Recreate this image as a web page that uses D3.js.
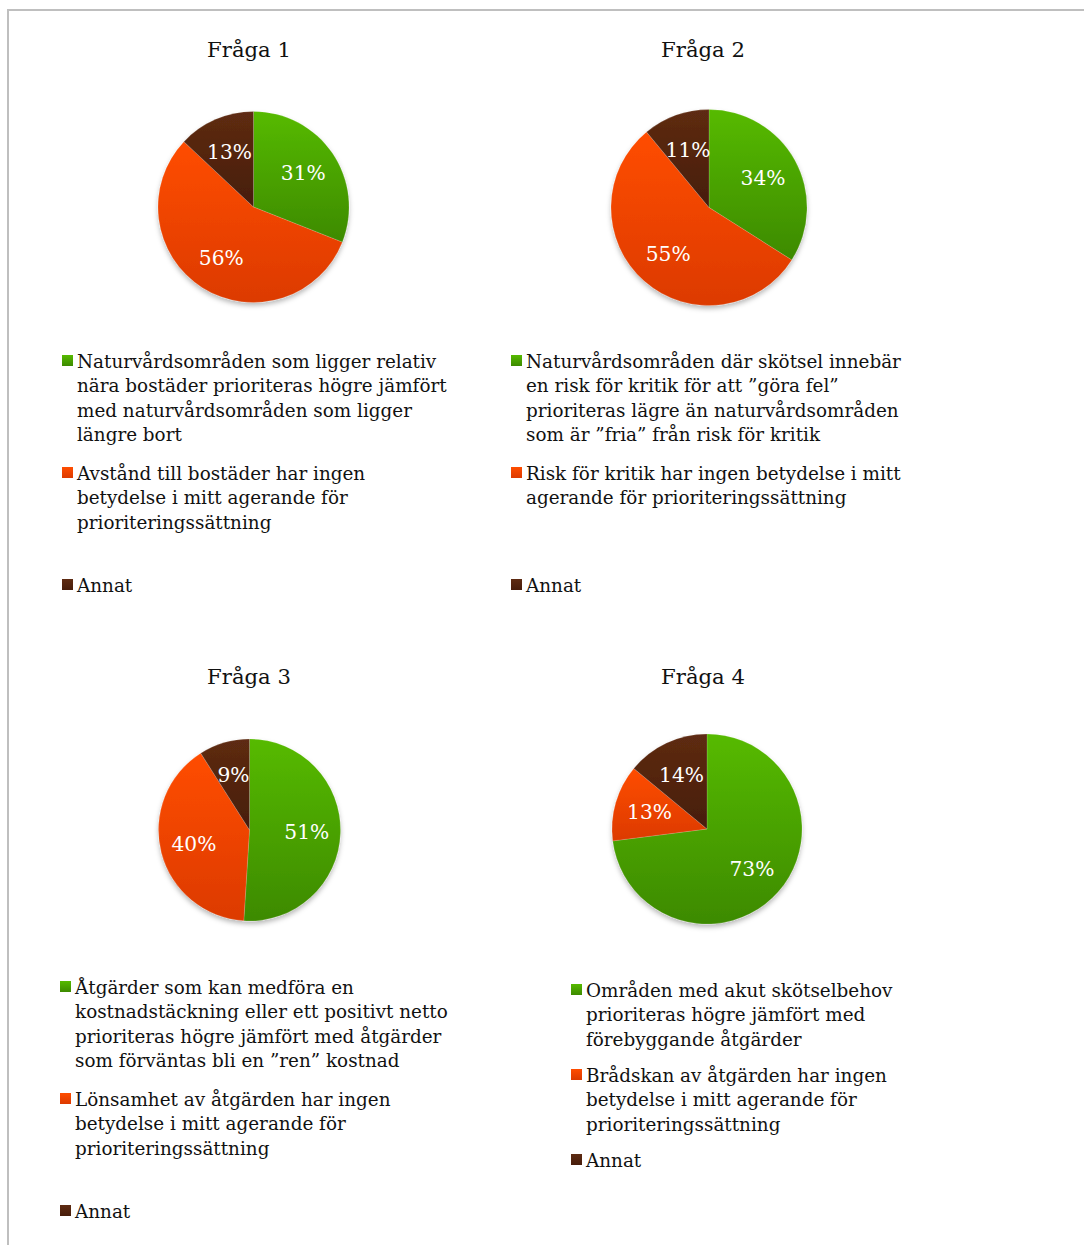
<!DOCTYPE html>
<html><head><meta charset="utf-8">
<script src="https://cdn.jsdelivr.net/npm/d3@7/dist/d3.min.js"></script>
<style>body{margin:0;background:#fff}svg{display:block}</style>
</head><body>
<svg id="c" width="1084" height="1245"></svg>
<script>
const titles = ["Fråga 1","Fråga 2","Fråga 3","Fråga 4"];
const categories = ["A","B","Annat"];
const q1 = [31,56,13];
const q2 = [34,55,11];
const q3 = [51,40,9];
const q4 = [73,13,14];
const legend1 = [["Naturvårdsområden som ligger relativ","nära bostäder prioriteras högre jämfört","med naturvårdsområden som ligger","längre bort"],["Avstånd till bostäder har ingen","betydelse i mitt agerande för","prioriteringssättning"],["Annat"]];
const legend2 = [["Naturvårdsområden där skötsel innebär","en risk för kritik för att ”göra fel”","prioriteras lägre än naturvårdsområden","som är ”fria” från risk för kritik"],["Risk för kritik har ingen betydelse i mitt","agerande för prioriteringssättning"],["Annat"]];
const legend3 = [["Åtgärder som kan medföra en","kostnadstäckning eller ett positivt netto","prioriteras högre jämfört med åtgärder","som förväntas bli en ”ren” kostnad"],["Lönsamhet av åtgärden har ingen","betydelse i mitt agerande för","prioriteringssättning"],["Annat"]];
const legend4 = [["Områden med akut skötselbehov","prioriteras högre jämfört med","förebyggande åtgärder"],["Brådskan av åtgärden har ingen","betydelse i mitt agerande för","prioriteringssättning"],["Annat"]];

const colorTop = ["#56ba00","#ff4d00","#5e2b12"];
const colorBot = ["#3d8a00","#dc3a00","#471d0b"];

const panels = [
  {title:titles[0], values:q1, legend:legend1, cx:253.5, cy:207, r:95.5, tx:249, ty:57, lx:62, ly:[368,480,592]},
  {title:titles[1], values:q2, legend:legend2, cx:709, cy:207.5, r:98, tx:703, ty:57, lx:511, ly:[368,480,592]},
  {title:titles[2], values:q3, legend:legend3, cx:249.5, cy:830, r:91, tx:249, ty:684, lx:60, ly:[994,1106,1218]},
  {title:titles[3], values:q4, legend:legend4, cx:707, cy:829, r:95, tx:703, ty:684, lx:571, ly:[997,1082,1167]}
];
const FONT = "'DejaVu Serif', Georgia, serif";
const svg = d3.select("#c");
const defs = svg.append("defs");
categories.forEach((c,i)=>{
  const g = defs.append("linearGradient").attr("id","g"+i).attr("x1",0).attr("y1",0).attr("x2",0).attr("y2",1);
  g.append("stop").attr("offset","0%").attr("stop-color",colorTop[i]);
  g.append("stop").attr("offset","100%").attr("stop-color",colorBot[i]);
});
const f = defs.append("filter").attr("id","sh").attr("x","-20%").attr("y","-20%").attr("width","140%").attr("height","150%");
f.append("feDropShadow").attr("dx",0).attr("dy",3).attr("stdDeviation",2.5).attr("flood-color","#000").attr("flood-opacity",0.28);

// border
svg.append("path").attr("d","M8,1245 V10 H1084").attr("fill","none").attr("stroke","#bfbfbf").attr("stroke-width",2);

// measure font scaling
const meas = svg.append("text").attr("font-family",FONT).attr("font-size",20).text("nära bostäder prioriteras högre jämfört");
const legSize = 20*370/meas.node().getComputedTextLength();
meas.attr("font-size",24).text("Fråga 1");
const titleSize = 24*84/meas.node().getComputedTextLength();
meas.attr("font-size",22).text("31%");
const pctSize = 22*45/meas.node().getComputedTextLength();
meas.remove();

const pie = d3.pie().sort(null).value(d=>d);
panels.forEach(p=>{
  const g = svg.append("g");
  g.append("text").attr("x",p.tx).attr("y",p.ty).attr("text-anchor","middle")
    .attr("font-family",FONT).attr("font-size",titleSize).attr("fill","#111").text(p.title);
  const arc = d3.arc().innerRadius(0).outerRadius(p.r);
  const lab = d3.arc().innerRadius(p.r*0.63).outerRadius(p.r*0.63);
  const pg = g.append("g").attr("transform",`translate(${p.cx},${p.cy})`);
  const arcs = pie(p.values);
  pg.append("g").attr("filter","url(#sh)").selectAll("path").data(arcs).join("path")
    .attr("d",arc).attr("fill",(d,i)=>`url(#g${i})`).attr("stroke","rgba(255,255,255,0.25)").attr("stroke-width",0.6);
  pg.selectAll("text").data(arcs).join("text")
    .attr("transform",d=>`translate(${lab.centroid(d)})`).attr("text-anchor","middle").attr("dy","0.35em")
    .attr("font-family",FONT).attr("font-size",pctSize).attr("fill","#fff").text(d=>d.data+"%");
  p.legend.forEach((lines,i)=>{
    const y0 = p.ly[i];
    const mg = defs.append("linearGradient").attr("id",`m${p.title.slice(-1)}${i}`).attr("x1",0).attr("y1",0).attr("x2",0).attr("y2",1);
    mg.append("stop").attr("offset","0%").attr("stop-color",colorTop[i]);
    mg.append("stop").attr("offset","100%").attr("stop-color",colorBot[i]);
    g.append("rect").attr("x",p.lx).attr("y",y0-13).attr("width",11).attr("height",11).attr("fill",`url(#m${p.title.slice(-1)}${i})`);
    const t = g.append("text").attr("font-family",FONT).attr("font-size",legSize).attr("fill","#111");
    lines.forEach((ln,j)=>t.append("tspan").attr("x",p.lx+15).attr("y",y0+j*24.3).text(ln));
  });
});
</script>
</body></html>
